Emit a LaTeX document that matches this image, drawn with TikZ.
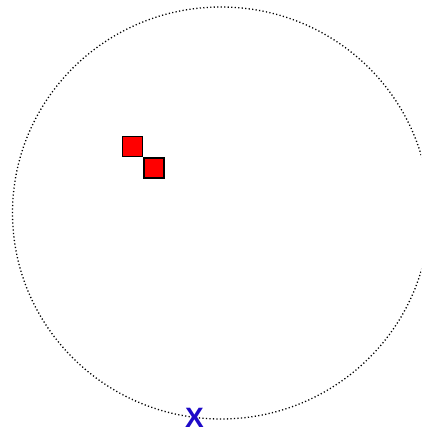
\documentclass[tikz,border=0pt]{standalone}
\usepackage{fontspec}
\setmainfont{Liberation Sans}
\definecolor{xblue}{RGB}{30,10,200}
\definecolor{sqred}{RGB}{255,0,0}
\tikzset{
  ring/.style={draw=black, line width=1.3pt, dash pattern=on 1.2pt off 2.3pt},
  redbox/.style={draw=black, fill=sqred, line width=1.3pt, minimum width=20pt, minimum height=20pt, inner sep=0pt},
  mark x/.style={text=xblue, font=\fontsize{28}{28}\selectfont\bfseries, inner sep=0pt, anchor=base}
}
\begin{document}
\begin{tikzpicture}[x=1pt,y=-1pt]
\useasboundingbox (0,0) rectangle (421,430);
\clip (0,0) rectangle (421,430);
\draw[ring] (221,213) ellipse [x radius=208.5, y radius=206];
\node[redbox] (a) at (132.5,146.5) {};
\node[redbox] (b) at (154,168) {};
\node[mark x] (x) at (194.5,427.5) {X};
\end{tikzpicture}
\end{document}
